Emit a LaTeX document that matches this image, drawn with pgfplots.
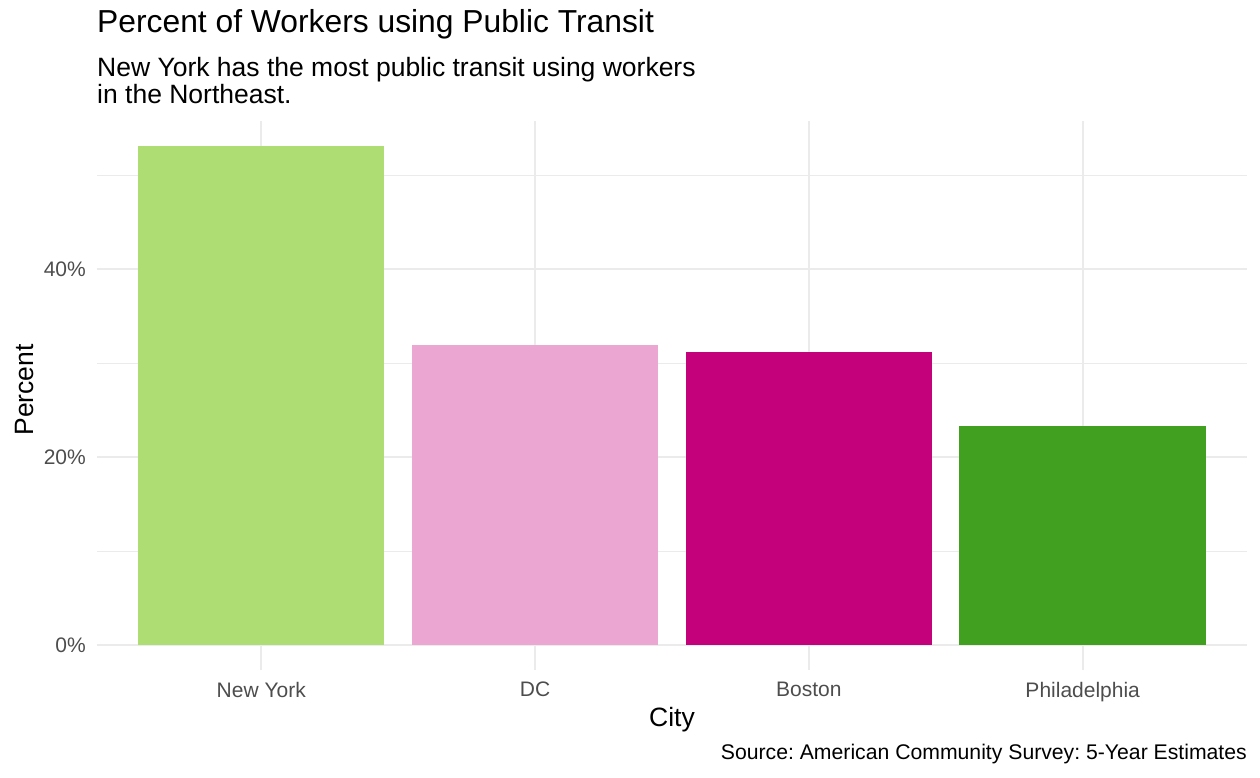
\documentclass[border=0pt]{standalone}
\usepackage{pgfplots}
\pgfplotsset{compat=1.18}
\usepackage{fontspec}
\setmainfont{Liberation Sans}
\frenchspacing
\definecolor{cNY}{HTML}{AEDD74}
\definecolor{cDC}{HTML}{EBA7D2}
\definecolor{cBO}{HTML}{C4007B}
\definecolor{cPH}{HTML}{42A020}
\definecolor{gridc}{HTML}{EBEBEB}
\definecolor{tickc}{HTML}{4D4D4D}
\begin{document}
\begin{tikzpicture}[x=1pt,y=1pt]
\useasboundingbox (0,0) rectangle (1260,778);
\begin{axis}[
  at={(97pt,108pt)}, anchor=south west,
  scale only axis, width=1150pt, height=549pt,
  xmin=0.4, xmax=4.6, ymin=-2.655, ymax=55.76,
  axis line style={draw=none},
  ybar, bar width=0.9, bar shift=0pt,
  xtick={1,2,3,4},
  xticklabels={New York,DC,Boston,Philadelphia},
  ytick={0,20,40},
  yticklabels={0\%,20\%,40\%},
  minor ytick={10,30,50},
  grid=both,
  major grid style={draw=gridc, line width=1.6pt},
  minor grid style={draw=gridc, line width=1pt},
  major tick length=0pt, minor tick length=0pt,
  tick style={draw=none},
  ticklabel style={font=\fontsize{21}{24}\selectfont, text=tickc, inner sep=0pt},
  yticklabel style={anchor=east, xshift=-11pt},
  xticklabel style={anchor=north, yshift=-12pt},
  axis on top=false,
  clip=false,
]
\addplot[fill=cNY, draw=none] coordinates {(1,53.1)};
\addplot[fill=cDC, draw=none] coordinates {(2,31.9)};
\addplot[fill=cBO, draw=none] coordinates {(3,31.2)};
\addplot[fill=cPH, draw=none] coordinates {(4,23.3)};
\end{axis}
\node[anchor=base west, inner sep=0pt, font=\fontsize{31.8}{38}\selectfont] at (97,745) {Percent of Workers using Public Transit};
\node[anchor=base west, inner sep=0pt, font=\fontsize{26.5}{32}\selectfont] at (97,701) {New York has the most public transit using workers};
\node[anchor=base west, inner sep=0pt, font=\fontsize{26.5}{32}\selectfont] at (97,674) {in the Northeast.};
\node[anchor=base, inner sep=0pt, font=\fontsize{26.5}{32}\selectfont] at (672,51) {City};
\node[anchor=base, inner sep=0pt, rotate=90, font=\fontsize{26.5}{32}\selectfont] at (33,388) {Percent};
\node[anchor=base east, inner sep=0pt, font=\fontsize{21.2}{24}\selectfont] at (1247,18) {Source: American Community Survey: 5-Year Estimates};
\end{tikzpicture}
\end{document}
